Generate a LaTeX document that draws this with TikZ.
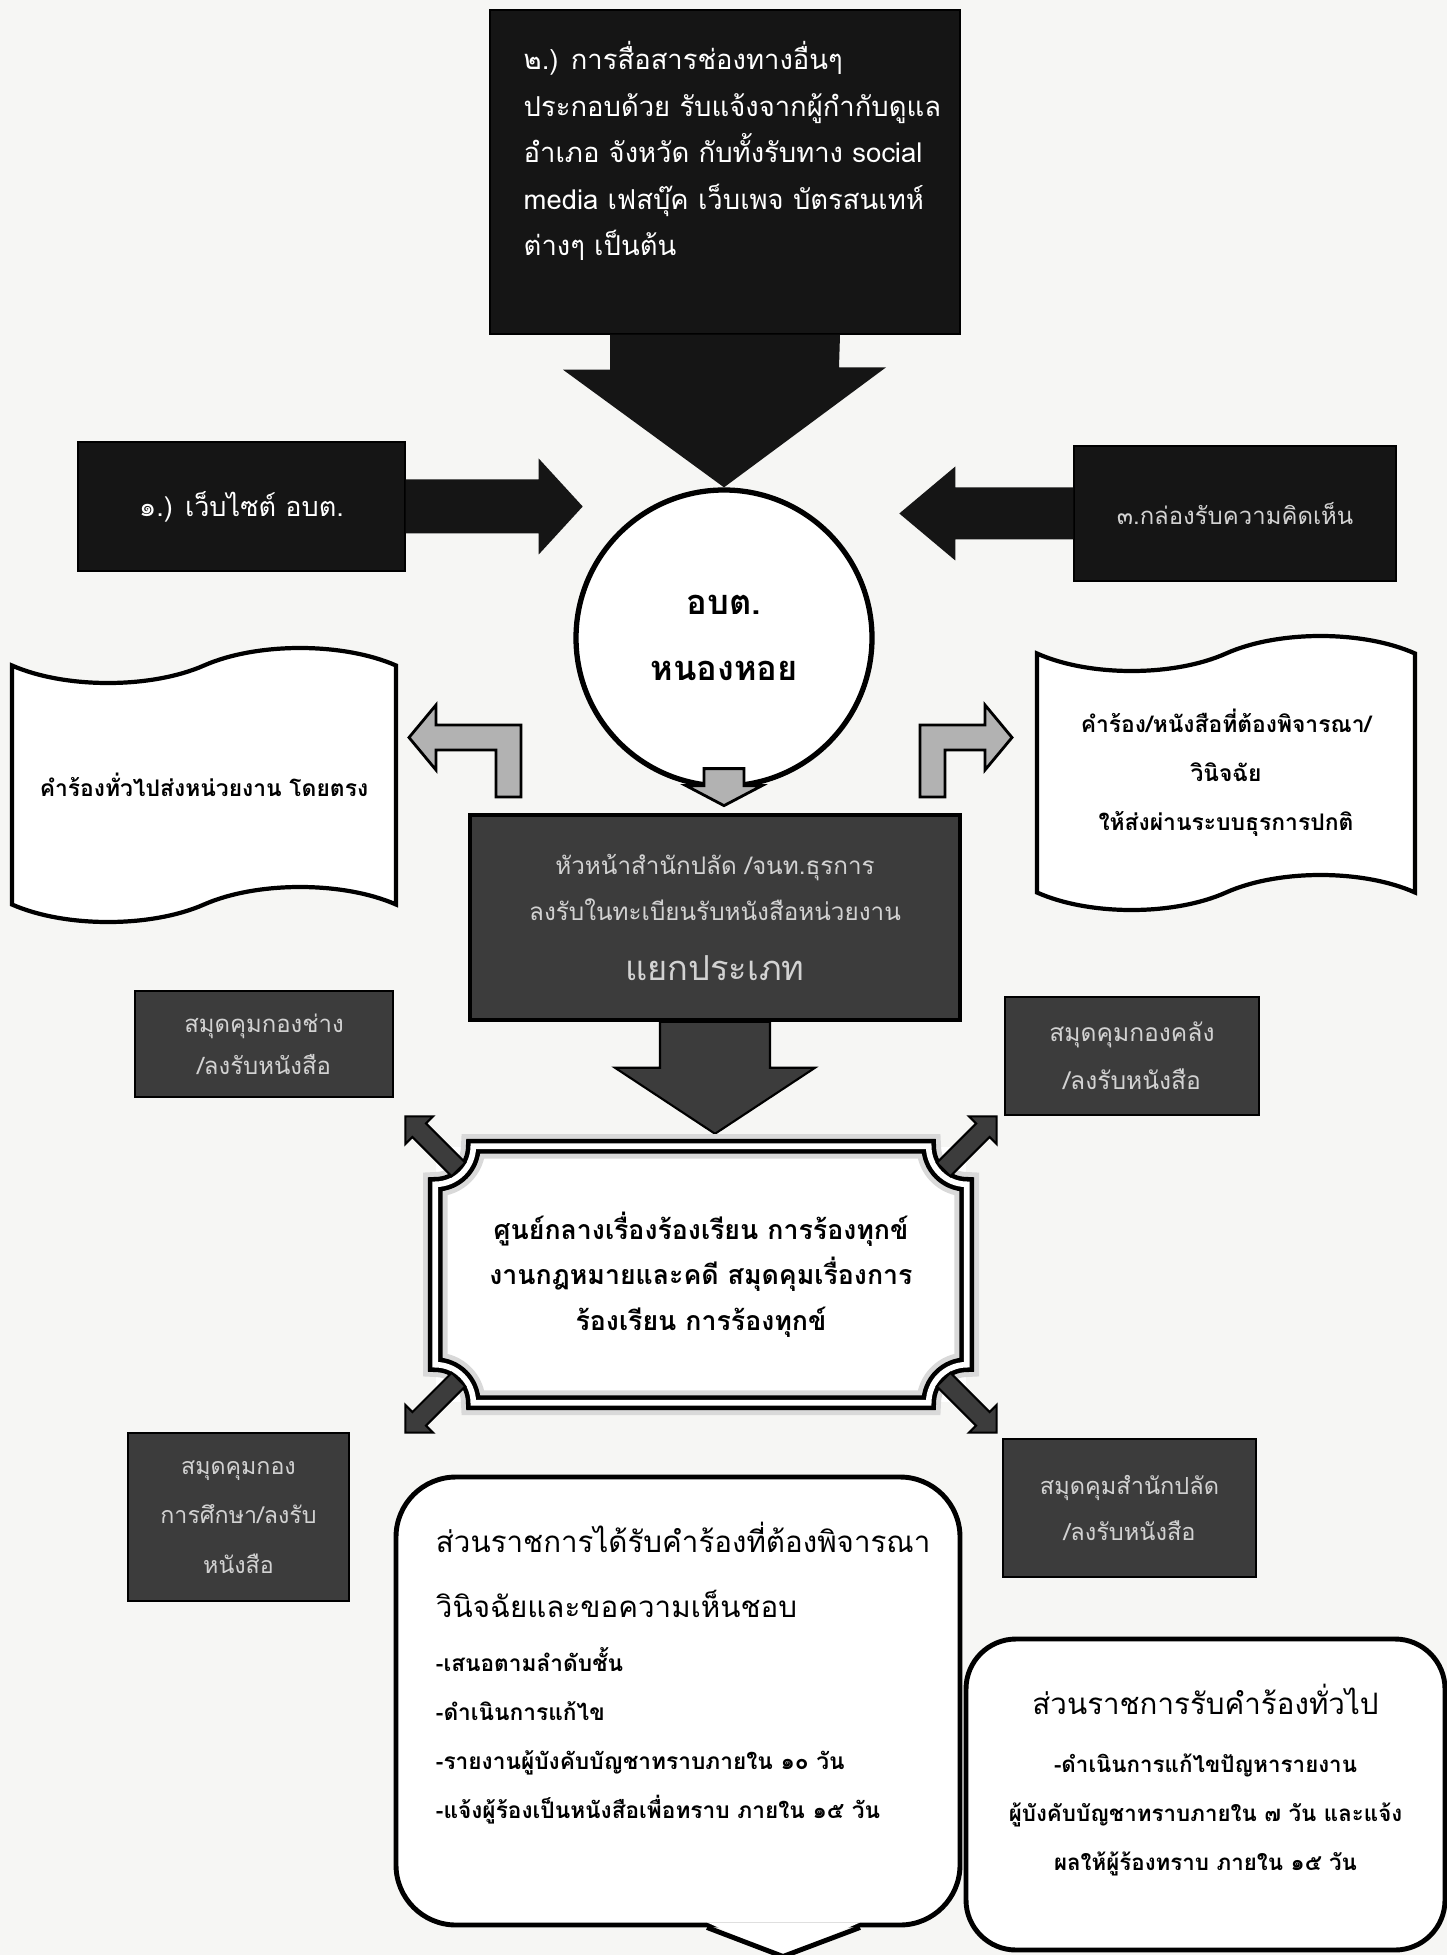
\documentclass[tikz,border=0pt]{standalone}
\usepackage{fontspec}
\newfontfamily\thaifont[Script=Thai]{Loma}
\usepackage{xcolor}
\usepackage{tikz}
\usetikzlibrary{positioning,shapes.symbols,shapes.arrows}

\definecolor{paper}{HTML}{F6F6F4}
\definecolor{inkbk}{HTML}{151515}
\definecolor{inkgr}{HTML}{3C3C3C}
\definecolor{txtgr}{HTML}{D2D2D2}

\begin{document}
\begin{tikzpicture}
  \tikzstyle{blackbox} = [fill=inkbk, draw=black, text=white, align=center,
    font=\thaifont\fontsize{7.7}{13}\selectfont]
  \tikzstyle{midbox} = [fill=inkgr, draw=black, line width=1pt, text=txtgr,
    align=center, font=\thaifont\fontsize{6.9}{13}\selectfont]
  \tikzstyle{bookbox} = [fill=inkgr, draw=black, line width=0.8pt, text=txtgr,
    align=center, font=\thaifont\fontsize{6.8}{12}\selectfont]
  \tikzstyle{doc} = [shape=tape, draw, line width=1.2pt, fill=white,
    tape bend height=0.35cm, align=center,
    font=\thaifont\bfseries\fontsize{6.5}{14}\selectfont]
  \tikzstyle{blockarr} = [fill=inkbk]
  \tikzstyle{bentarr} = [fill=gray!60, draw=black, line width=0.8pt]
  \tikzstyle{cornarr} = [shape=single arrow, fill=inkgr, draw=black,
    line width=0.6pt, minimum height=0.75cm, inner sep=0.085cm,
    single arrow head extend=0.1cm]
  \tikzstyle{calbox} = [draw, line width=1.4pt, fill=white, rounded corners=0.6cm]

  \useasboundingbox (0,0) rectangle (14.47,-19.55);
  \fill[paper] (0,0) rectangle (14.47,-19.55);

  % channel 2 on top
  \node[blackbox, minimum width=4.7cm, minimum height=3.24cm] (other) at (7.25,-1.72) {};
  \node[anchor=north west, text=white, align=left,
    font=\thaifont\fontsize{7.8}{13.2}\selectfont] (othertxt)
    at ([shift={(0.22,-0.2)}]other.north west)
    {๒.) การสื่อสารช่องทางอื่นๆ\\
     ประกอบด้วย รับแจ้งจากผู้กำกับดูแล\\
     อำเภอ จังหวัด กับทั้งรับทาง social\\
     media เฟสบุ๊ค เว็บเพจ บัตรสนเทห์\\
     ต่างๆ เป็นต้น};

  % channels 1 and 3
  \node[blackbox, minimum width=3.27cm, minimum height=1.29cm] (web) at (2.415,-5.065)
    {๑.) เว็บไซต์ อบต.};
  \node[blackbox, text=txtgr, font=\thaifont\fontsize{6.8}{12}\selectfont,
    minimum width=3.22cm, minimum height=1.35cm] (box) at (12.35,-5.135)
    {๓.กล่องรับความคิดเห็น};

  \node[circle, draw, line width=1.5pt, fill=white, minimum size=2.96cm, align=center,
    font=\thaifont\bfseries\fontsize{9.8}{19}\selectfont] (abt) at (7.24,-6.38)
    {อบต.\\หนองหอย};

  \fill[blockarr] ([xshift=-1.15cm]other.south) -- ++(0,-0.35) -- ++(-0.47,0)
    -- (abt.north) -- ++(1.62,1.2) -- ++(-0.47,0) -- ([xshift=1.15cm]other.south) -- cycle;
  \fill[blockarr] ([yshift=0.27cm]web.east) -- ++(1.33,0) -- ++(0,0.21) -- ++(0.44,-0.48)
    -- ++(-0.44,-0.48) -- ++(0,0.21) -- ++(-1.33,0) -- cycle;
  \fill[blockarr] ([yshift=0.26cm]box.west) -- ++(-1.18,0) -- ++(0,0.21) -- ++(-0.56,-0.47)
    -- ++(0.56,-0.47) -- ++(0,0.21) -- ++(1.18,0) -- cycle;

  % split by type
  \node[doc, minimum width=3.84cm, minimum height=2.74cm] (direct) at (2.04,-7.85)
    {คำร้องทั่วไปส่งหน่วยงาน โดยตรง};
  \node[doc, minimum width=3.78cm, minimum height=2.74cm] (formal) at (12.26,-7.73)
    {คำร้อง/หนังสือที่ต้องพิจารณา/\\วินิจฉัย\\ให้ส่งผ่านระบบธุรการปกติ};

  \draw[bentarr] (5.21,-7.97) -- (5.21,-7.25) -- (4.36,-7.25) -- (4.36,-7.05) -- (4.09,-7.375)
    -- (4.36,-7.70) -- (4.36,-7.50) -- (4.96,-7.50) -- (4.96,-7.97) -- cycle;
  \draw[bentarr] (9.20,-7.97) -- (9.20,-7.25) -- (9.85,-7.25) -- (9.85,-7.05) -- (10.12,-7.375)
    -- (9.85,-7.70) -- (9.85,-7.50) -- (9.45,-7.50) -- (9.45,-7.97) -- cycle;
  \draw[bentarr] ([shift={(-0.2,0.2)}]abt.south) -- ++(0,-0.17) -- ++(-0.18,0) -- ++(0.38,-0.2)
    -- ++(0.38,0.2) -- ++(-0.18,0) -- ++(0,0.17) -- cycle;

  \node[midbox, minimum width=4.9cm, minimum height=2.05cm] (clerk) at (7.15,-9.175)
    {หัวหน้าสำนักปลัด /จนท.ธุรการ\\ลงรับในทะเบียนรับหนังสือหน่วยงาน\\[4pt]
     {\fontsize{9.8}{17}\selectfont แยกประเภท}};
  \draw[fill=inkgr, line width=0.6pt] ([xshift=-0.55cm]clerk.south) -- ++(0,-0.46) -- ++(-0.45,0)
    -- ++(1.0,-0.66) -- ++(1.0,0.66) -- ++(-0.45,0) -- ++(0,0.46) -- cycle;

  % registers of the divisions
  \node[bookbox, minimum width=2.58cm, minimum height=1.06cm] (chang) at (2.64,-10.44)
    {สมุดคุมกองช่าง\\/ลงรับหนังสือ};
  \node[bookbox, font=\thaifont\fontsize{7}{13.7}\selectfont,
    minimum width=2.54cm, minimum height=1.18cm] (khlang) at (11.32,-10.56)
    {สมุดคุมกองคลัง\\/ลงรับหนังสือ};
  \node[bookbox, font=\thaifont\fontsize{6.6}{14}\selectfont,
    minimum width=2.21cm, minimum height=1.68cm] (suksa) at (2.385,-15.17)
    {สมุดคุมกอง\\การศึกษา/ลงรับ\\หนังสือ};
  \node[bookbox, font=\thaifont\fontsize{6.7}{13}\selectfont,
    minimum width=2.53cm, minimum height=1.38cm] (palad) at (11.295,-15.08)
    {สมุดคุมสำนักปลัด\\/ลงรับหนังสือ};

  % complaint centre
  \node[fill=white, minimum width=5.3cm, minimum height=2.55cm, align=center,
    font=\thaifont\bfseries\fontsize{7.6}{13}\selectfont] (hub) at (7.01,-12.745)
    {ศูนย์กลางเรื่องร้องเรียน การร้องทุกข์\\งานกฎหมายและคดี สมุดคุมเรื่องการ\\ร้องเรียน การร้องทุกข์};
  \draw[line width=1.3pt, double=white, double distance=1.6pt,
    preaction={draw=gray!30, line width=7pt}]
    ([xshift=0.38cm]hub.north west) -- ([xshift=-0.38cm]hub.north east)
    arc[start angle=180, end angle=270, radius=0.38cm] -- ([yshift=0.38cm]hub.south east)
    arc[start angle=90, end angle=180, radius=0.38cm] -- ([xshift=0.38cm]hub.south west)
    arc[start angle=0, end angle=90, radius=0.38cm] -- ([yshift=-0.38cm]hub.north west)
    arc[start angle=270, end angle=360, radius=0.38cm] -- cycle;
  \node[cornarr, rotate=135] (toChang) at (hub.north west) {};
  \node[cornarr, rotate=45] (toKhlang) at (hub.north east) {};
  \node[cornarr, rotate=225] (toSuksa) at (hub.south west) {};
  \node[cornarr, rotate=-45] (toPalad) at (hub.south east) {};

  % what the divisions do
  \node[calbox, minimum width=5.64cm, minimum height=4.48cm] (partA) at (6.78,-17.01) {};
  \fill[white] ([shift={(0.29,0.05)}]partA.south) -- ([shift={(1.05,-0.29)}]partA.south)
    -- ([shift={(1.82,0.05)}]partA.south) -- cycle;
  \draw[line width=1.4pt] ([xshift=0.29cm]partA.south) -- ([shift={(1.05,-0.29)}]partA.south)
    -- ([xshift=1.82cm]partA.south);
  \node[anchor=north west, align=left, font=\thaifont\fontsize{8.4}{18.4}\selectfont] (partAhead)
    at ([shift={(0.3,-0.35)}]partA.north west)
    {ส่วนราชการได้รับคำร้องที่ต้องพิจารณา\\วินิจฉัยและขอความเห็นชอบ};
  \node[below=0.05cm of partAhead.south west, anchor=north west, align=left,
    font=\thaifont\bfseries\fontsize{6.45}{14}\selectfont] (partAlist)
    {-เสนอตามลำดับชั้น\\-ดำเนินการแก้ไข\\-รายงานผู้บังคับบัญชาทราบภายใน ๑๐ วัน\\
     -แจ้งผู้ร้องเป็นหนังสือเพื่อทราบ ภายใน ๑๕ วัน};

  \node[calbox, rounded corners=0.5cm, minimum width=4.79cm, minimum height=3.11cm] (partB)
    at (12.055,-17.945) {};
  \node[font=\thaifont\fontsize{8.4}{15}\selectfont] (partBhead) at ([yshift=-0.63cm]partB.north)
    {ส่วนราชการรับคำร้องทั่วไป};
  \node[below=0.14cm of partBhead, align=center,
    font=\thaifont\bfseries\fontsize{6.35}{14}\selectfont] (partBlist)
    {-ดำเนินการแก้ไขปัญหารายงาน\\ผู้บังคับบัญชาทราบภายใน ๗ วัน และแจ้ง\\ผลให้ผู้ร้องทราบ ภายใน ๑๕ วัน};
\end{tikzpicture}
\end{document}
